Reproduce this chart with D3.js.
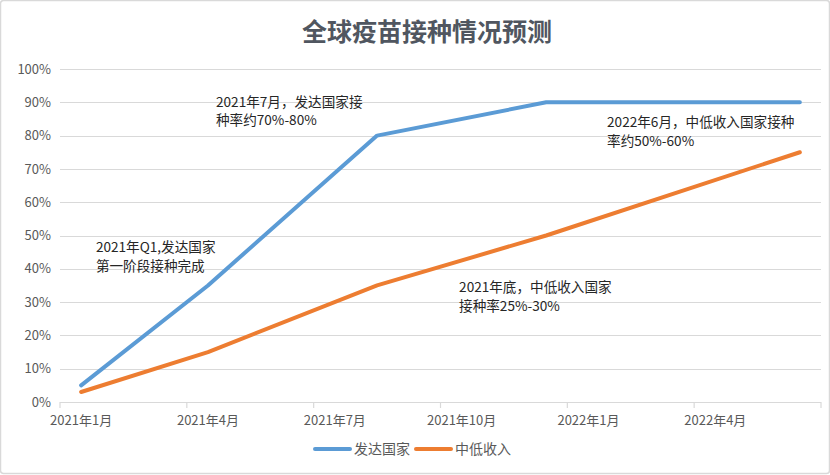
<!DOCTYPE html>
<html>
<head>
<meta charset="utf-8">
<script src="https://cdn.jsdelivr.net/npm/d3@7"></script>
<style>
html,body{margin:0;padding:0;background:#fff;}
svg{display:block;font-family:"Noto Sans CJK SC","Noto Sans",sans-serif;}
</style>
</head>
<body>
<svg id="chart" width="830" height="475"></svg>
<script>
// ---- data ----
const title = "全球疫苗接种情况预测";
const months = ["2021年1月","2021年2月","2021年3月","2021年4月","2021年5月","2021年6月",
  "2021年7月","2021年8月","2021年9月","2021年10月","2021年11月","2021年12月",
  "2022年1月","2022年2月","2022年3月","2022年4月","2022年5月","2022年6月"];
const tickLabels = ["2021年1月","2021年4月","2021年7月","2021年10月","2022年1月","2022年4月"];
const dataMonths = ["2021年1月","2021年4月","2021年8月","2021年12月","2022年6月"];
const developed = [5, 35, 80, 90, 90];
const lowMiddle = [3, 15, 35, 50, 75];
const seriesNames = ["发达国家","中低收入"];
const yTicks = [0,10,20,30,40,50,60,70,80,90,100];
// annotations: anchor (month index, percent) and text lines
const noteMonth = [3.69, 12.94, 0.85, 9.44];
const noteValue = [88.6, 82.5, 45, 33];
const noteLines = [
  ["2021年7月，发达国家接","种率约70%-80%"],
  ["2022年6月，中低收入国家接种","率约50%-60%"],
  ["2021年Q1,发达国家","第一阶段接种完成"],
  ["2021年底，中低收入国家","接种率25%-30%"]
];

// ---- layout ----
const W = 830, H = 475;
const plot = {left: 60, right: 821, top: 69, bottom: 402};
const colors = ["#5B9BD5", "#ED7D31"];
const svg = d3.select("#chart");

svg.append("rect").attr("x",0.5).attr("y",0.5).attr("width",W-1).attr("height",H-2)
  .attr("rx",3).attr("fill","#fff").attr("stroke","#d9d9d9").attr("stroke-width",1.5);

const x = d3.scaleLinear().domain([0, months.length]).range([plot.left, plot.right]);
const y = d3.scaleLinear().domain([0, 100]).range([plot.bottom, plot.top]);
const xPos = m => x(months.indexOf(m) + 0.5);

// title
svg.append("text").attr("x", 427).attr("y", 41).attr("text-anchor","middle")
  .attr("font-size", 25).attr("font-weight","bold").attr("fill","#505660").text(title);

// gridlines
svg.append("g").selectAll("line").data(yTicks.filter(d => d > 0)).join("line")
  .attr("x1", plot.left).attr("x2", plot.right)
  .attr("y1", d => Math.round(y(d)) + 0.5).attr("y2", d => Math.round(y(d)) + 0.5)
  .attr("stroke","#d9d9d9").attr("stroke-width",1);

// y axis labels
const yAxis = d3.axisLeft(y).tickValues(yTicks).tickFormat(d => d + "%").tickSize(0).tickPadding(9);
const gy = svg.append("g").attr("transform", `translate(${plot.left},0)`).call(yAxis);
gy.select(".domain").remove();
gy.selectAll("text").attr("font-size", 13).attr("fill","#595959")
  .attr("font-family",'"Noto Sans CJK SC","Noto Sans",sans-serif');

// x axis: ticks at month boundaries every 3 months, labels at month centres
const tickIdx = d3.range(0, months.length + 1, 3);
const gx = svg.append("g").attr("transform", `translate(0,${plot.bottom})`);
gx.append("line").attr("x1", plot.left).attr("x2", plot.right).attr("y1",0.5).attr("y2",0.5)
  .attr("stroke","#d9d9d9").attr("stroke-width",1.2);
gx.selectAll("line.tk").data(tickIdx).join("line").attr("class","tk")
  .attr("x1", d => x(d)).attr("x2", d => x(d)).attr("y1", 0).attr("y2", 6)
  .attr("stroke","#d9d9d9").attr("stroke-width",1.2);
gx.selectAll("text").data(tickLabels).join("text")
  .attr("x", d => xPos(d)).attr("y", 23).attr("text-anchor","middle")
  .attr("font-size", 13).attr("fill","#595959").text(d => d);

// lines
const line = d3.line().x(d => xPos(d.m)).y(d => y(d.v));
[developed, lowMiddle].forEach((vals, i) => {
  const pts = dataMonths.map((m, j) => ({m, v: vals[j]}));
  svg.append("path").datum(pts).attr("d", line).attr("fill","none")
    .attr("stroke", colors[i]).attr("stroke-width", 4)
    .attr("stroke-linejoin","round").attr("stroke-linecap","round");
});

// annotations
noteLines.forEach((lines, i) => {
  const g = svg.append("g");
  lines.forEach((s, k) => {
    g.append("text").attr("x", x(noteMonth[i])).attr("y", y(noteValue[i]) + k * 18.5)
      .attr("font-size", 13.6).attr("fill","#262626").text(s);
  });
});

// legend
const lg = svg.append("g").attr("transform","translate(315,449)");
const legendX = [0, 101];
seriesNames.forEach((n, i) => {
  const g = lg.append("g").attr("transform", `translate(${legendX[i]},0)`);
  g.append("line").attr("x1",0).attr("x2",35).attr("y1",0).attr("y2",0)
    .attr("stroke", colors[i]).attr("stroke-width",4).attr("stroke-linecap","round");
  g.append("text").attr("x",39).attr("y",5).attr("font-size",14).attr("fill","#595959").text(n);
});
</script>
</body>
</html>
